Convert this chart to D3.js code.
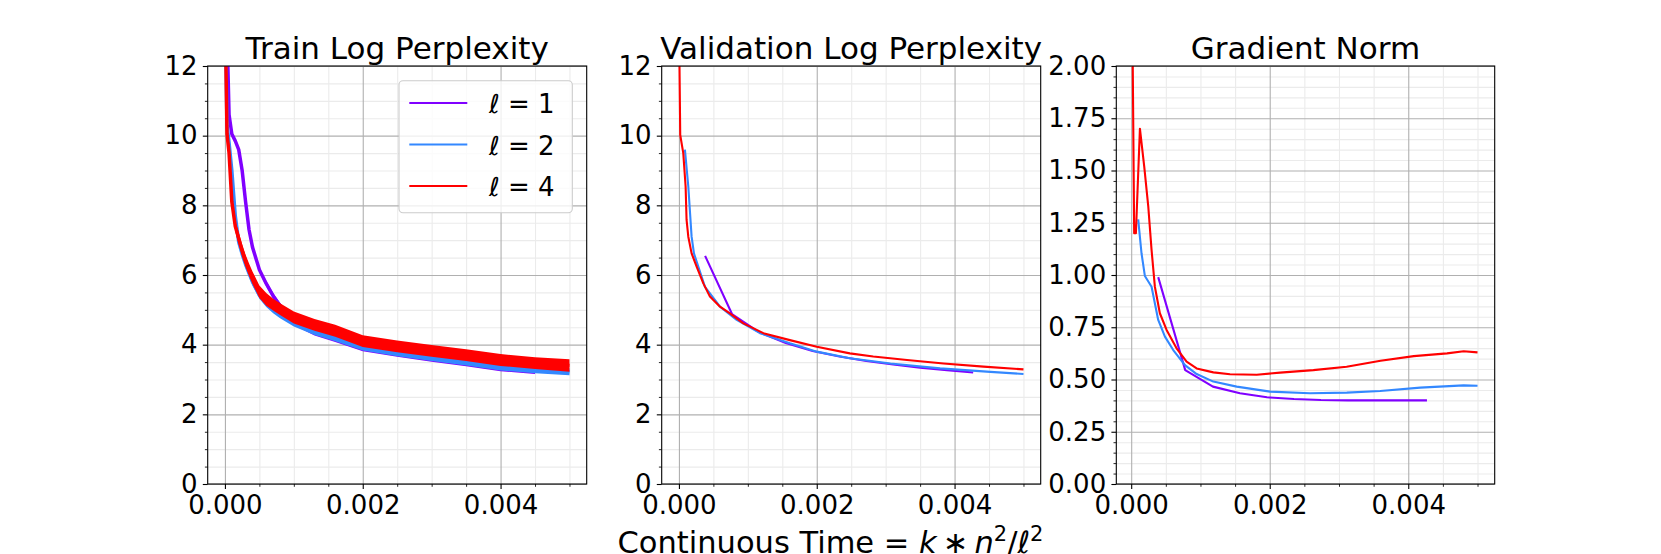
<!DOCTYPE html>
<meta charset="utf-8">
<style>
  body { margin: 0; background: #fff; }
  svg { font-family: "DejaVu Sans", sans-serif; background: #fff; }
</style>
<svg width="1661" height="554"></svg>
<script src="https://d3js.org/d3.v7.min.js"></script>
<script>

    // ---------- data ----------
    var seriesKeys   = ["1", "2", "4"];                 // values of l
    var seriesColors = ["#8000ff", "#3388ff", "#ff0000"];

    var xTickValues = [0, 0.002, 0.004];
    var xTickLabels = ["0.000", "0.002", "0.004"];
    var ppxTicks    = [0, 2, 4, 6, 8, 10, 12];
    var gradTicks   = [0, 0.25, 0.5, 0.75, 1, 1.25, 1.5, 1.75, 2];

    // train log perplexity (noisy): centre value and half-spread of the noise band
    var trainTime = [0, 0.00003, 0.00006, 0.0001, 0.00015, 0.0002, 0.00025, 0.0003, 0.00035, 0.0004,
                     0.0005, 0.0006, 0.0007, 0.0008, 0.001, 0.0013, 0.0016, 0.002, 0.0025, 0.003,
                     0.0035, 0.004, 0.0045, 0.005];
    var train1 = [null, 13, 10.6, 10.05, 9.85, 9.6, 9.0, 8.1, 7.3, 6.8,
                  6.15, 5.75, 5.4, 5.12, 4.65, 4.35, 4.17, 3.9, 3.74, 3.6,
                  3.47, 3.33, 3.25, null];
    var train2 = [14, 10.3, 9.8, 9.0, 7.7, 6.95, 6.6, 6.3, 6.05, 5.8,
                  5.42, 5.18, 5.0, 4.86, 4.62, 4.38, 4.2, 3.93, 3.77, 3.63,
                  3.5, 3.36, 3.28, 3.22];
    var train4 = [14, 10.05, 9.5, 8.1, 7.4, 7.05, 6.7, 6.4, 6.15, 5.92,
                  5.52, 5.3, 5.15, 5.02, 4.78, 4.57, 4.4, 4.1, 3.95, 3.82,
                  3.7, 3.56, 3.47, 3.4];
    var trainSpread1 = [0, 0.05, 0.05, 0.06, 0.06, 0.06, 0.06, 0.06, 0.07, 0.07,
                        0.07, 0.08, 0.08, 0.08, 0.09, 0.09, 0.09, 0.09, 0.09, 0.09,
                        0.09, 0.09, 0.09, 0];
    var trainSpread2 = [0, 0.06, 0.06, 0.08, 0.08, 0.09, 0.09, 0.1, 0.1, 0.1,
                        0.1, 0.1, 0.1, 0.1, 0.1, 0.1, 0.1, 0.1, 0.1, 0.1,
                        0.1, 0.1, 0.1, 0.1];
    var trainSpread4 = [0, 0.08, 0.1, 0.12, 0.15, 0.18, 0.18, 0.18, 0.18, 0.18,
                        0.18, 0.18, 0.17, 0.17, 0.17, 0.17, 0.17, 0.17, 0.17, 0.17,
                        0.17, 0.17, 0.17, 0.18];

    // validation log perplexity
    var valTime1 = [0.00038, 0.00077, 0.00116, 0.00155, 0.00194, 0.00233, 0.00272, 0.00311, 0.0035, 0.00389, 0.00427];
    var val1     = [6.55, 4.88, 4.36, 4.05, 3.82, 3.66, 3.53, 3.43, 3.34, 3.27, 3.2];
    var valTime2 = [0.000087, 0.000136, 0.000184, 0.000218, 0.000281, 0.000378, 0.000596, 0.000838, 0.001177,
                    0.00161, 0.002, 0.00248, 0.00307, 0.00379, 0.00452, 0.005];
    var val2     = [9.6, 8.54, 7.1, 6.62, 6.24, 5.66, 5.09, 4.71, 4.33, 4.04, 3.8, 3.61, 3.46, 3.32, 3.22, 3.16];
    var valTime4 = [0, 0.000019, 0.000063, 0.000097, 0.000111, 0.000136, 0.000184, 0.000257, 0.000354, 0.00045,
                    0.000596, 0.00074, 0.000935, 0.001225, 0.00161, 0.002, 0.00248, 0.00282, 0.00331, 0.00384,
                    0.00442, 0.005];
    var val4     = [13.5, 10.02, 9.5, 8.54, 7.58, 7.1, 6.62, 6.24, 5.76, 5.38,
                    5.09, 4.9, 4.61, 4.33, 4.13, 3.94, 3.75, 3.66, 3.56, 3.46,
                    3.37, 3.29];

    // gradient norm
    var gradTime1 = [0.00039, 0.00078, 0.00118, 0.00157, 0.00196, 0.00235, 0.00274, 0.00313, 0.00352, 0.00391, 0.00427];
    var grad1     = [0.99, 0.545, 0.466, 0.434, 0.415, 0.407, 0.402, 0.4, 0.4, 0.4, 0.4];
    var gradTime2 = [0.000101, 0.000149, 0.000198, 0.000294, 0.00039, 0.000487, 0.000607, 0.000776, 0.000945,
                     0.001186, 0.001523, 0.002005, 0.002583, 0.003113, 0.003595, 0.004173, 0.0048, 0.005];
    var grad2     = [1.266, 1.104, 0.995, 0.944, 0.785, 0.705, 0.641, 0.569, 0.526,
                     0.49, 0.466, 0.442, 0.434, 0.437, 0.445, 0.461, 0.472, 0.47];
    var gradTime4 = [0.000015, 0.000043, 0.000068, 0.000126, 0.000188, 0.000246, 0.000294, 0.000342, 0.000414,
                     0.000511, 0.000655, 0.0008, 0.000945, 0.001186, 0.001427, 0.001812, 0.00215, 0.00263,
                     0.00311, 0.0036, 0.00408, 0.00456, 0.0048, 0.005];
    var grad4     = [2.3, 1.2, 1.2, 1.7, 1.52, 1.33, 1.12, 0.944, 0.817,
                     0.737, 0.649, 0.585, 0.553, 0.534, 0.525, 0.523, 0.533, 0.545,
                     0.561, 0.59, 0.612, 0.625, 0.635, 0.63];

    function zip(t, v, s) {
        return t.map(function(d, i) { return {t: d, v: v[i], s: s ? s[i] : 0}; });
    }

    /* --------------------
     Layout
   -------------------- */
    var svg = d3.select("svg"),
        width = +svg.attr("width"),
        height = +svg.attr("height");

    var plotTop = 66, plotBottom = 484;
    var tickFont = 26, titleFont = 31;

    var panels = [
        {title: "Train Log Perplexity", x0: 207.7, x1: 586.7, xDomain: [-0.00025, 0.00525],
         yDomain: [0, 12], yTicks: ppxTicks, yMinorStep: 0.5, fmt: d3.format("d"), noisy: true,
         series: [zip(trainTime, train1, trainSpread1), zip(trainTime, train2, trainSpread2), zip(trainTime, train4, trainSpread4)]},
        {title: "Validation Log Perplexity", x0: 661.7, x1: 1040.7, xDomain: [-0.00025, 0.00525],
         yDomain: [0, 12], yTicks: ppxTicks, yMinorStep: 0.5, fmt: d3.format("d"),
         series: [zip(valTime1, val1), zip(valTime2, val2), zip(valTime4, val4)]},
        {title: "Gradient Norm", x0: 1116.3, x1: 1494.7, xDomain: [-0.000215, 0.005248],
         yDomain: [0, 2], yTicks: gradTicks, yMinorStep: 0.05, fmt: d3.format(".2f"),
         series: [zip(gradTime1, grad1), zip(gradTime2, grad2), zip(gradTime4, grad4)]}
    ];

    var majorLen = 4.9, minorLen = 2.8;

    panels.forEach(function(p, pi) {
        var w = p.x1 - p.x0, h = plotBottom - plotTop;
        var x = d3.scaleLinear().domain(p.xDomain).range([0, w]);
        var y = d3.scaleLinear().domain(p.yDomain).range([h, 0]);

        var xMinor = d3.range(-0.0005, 0.0055, 0.0005).filter(function(d) {
            return d >= p.xDomain[0] && d <= p.xDomain[1] && Math.abs(Math.round(d / 0.002) * 0.002 - d) > 1e-9;
        });
        var yMinor = d3.range(p.yDomain[0], p.yDomain[1] + 1e-9, p.yMinorStep).filter(function(d) {
            return p.yTicks.every(function(t) { return Math.abs(t - d) > 1e-9; });
        });

        var g = svg.append("g").attr("transform", "translate(" + p.x0 + "," + plotTop + ")");

        // grids
        function grid(axis, cls, color) {
            var gg = g.append("g").attr("class", cls).call(axis);
            gg.select(".domain").remove();
            gg.selectAll("line").attr("stroke", color).attr("stroke-width", 1.1);
            gg.selectAll("text").remove();
            return gg;
        }
        grid(d3.axisBottom(x).tickValues(xMinor).tickSize(-h).tickFormat(""), "gx-minor", "#ebebeb")
            .attr("transform", "translate(0," + h + ")");
        grid(d3.axisLeft(y).tickValues(yMinor).tickSize(-w).tickFormat(""), "gy-minor", "#ebebeb");
        grid(d3.axisBottom(x).tickValues(xTickValues).tickSize(-h).tickFormat(""), "gx-major", "#b0b0b0")
            .attr("transform", "translate(0," + h + ")");
        grid(d3.axisLeft(y).tickValues(p.yTicks).tickSize(-w).tickFormat(""), "gy-major", "#b0b0b0");

        // clip
        var clipId = "clip" + pi;
        g.append("clipPath").attr("id", clipId)
            .append("rect").attr("width", w).attr("height", h);
        var plot = g.append("g").attr("clip-path", "url(#" + clipId + ")");

        var line = d3.line()
            .defined(function(d) { return d.v != null; })
            .x(function(d) { return x(d.t); })
            .y(function(d) { return y(d.v); });

        var area = d3.area()
            .defined(function(d) { return d.v != null; })
            .x(function(d) { return x(d.t); })
            .y0(function(d) { return y(d.v - d.s); })
            .y1(function(d) { return y(d.v + d.s); });

        p.series.forEach(function(data, si) {
            if (p.noisy) {
                plot.append("path")
                    .datum(data)
                    .attr("d", area)
                    .attr("fill", seriesColors[si]);
            }
            plot.append("path")
                .datum(data)
                .attr("d", line)
                .attr("fill", "none")
                .attr("stroke", seriesColors[si])
                .attr("stroke-width", p.noisy ? 3.5 : 2.1)
                .attr("stroke-linejoin", "round");
        });

        // axes
        var ax = g.append("g").attr("transform", "translate(0," + h + ")")
            .call(d3.axisBottom(x).tickValues(xTickValues).tickFormat(function(d, i) { return xTickLabels[i]; })
                .tickSize(majorLen).tickPadding(6.8));
        var axm = g.append("g").attr("transform", "translate(0," + h + ")")
            .call(d3.axisBottom(x).tickValues(xMinor).tickFormat("").tickSize(minorLen));
        var ay = g.append("g")
            .call(d3.axisLeft(y).tickValues(p.yTicks).tickFormat(p.fmt).tickSize(majorLen).tickPadding(5.2));
        var aym = g.append("g")
            .call(d3.axisLeft(y).tickValues(yMinor).tickFormat("").tickSize(minorLen));
        [ax, axm, ay, aym].forEach(function(a) {
            a.select(".domain").remove();
            a.selectAll("line").attr("stroke", "#000").attr("stroke-width", 1.1);
            a.selectAll("text").attr("font-size", tickFont).attr("fill", "#000")
                .attr("font-family", "DejaVu Sans");
        });
        axm.selectAll("line").attr("stroke-width", 0.85);
        aym.selectAll("line").attr("stroke-width", 0.85);

        // spines
        g.append("rect").attr("width", w).attr("height", h)
            .attr("fill", "none").attr("stroke", "#000").attr("stroke-width", 1.1);

        // title
        svg.append("text")
            .attr("x", (p.x0 + p.x1) / 2).attr("y", 59.3)
            .attr("text-anchor", "middle")
            .attr("font-size", titleFont)
            .text(p.title);
    });

    // legend (first panel)
    var leg = svg.append("g");
    leg.append("rect")
        .attr("x", 399).attr("y", 80.7).attr("width", 173.3).attr("height", 132)
        .attr("rx", 4).attr("fill", "#fff").attr("fill-opacity", 0.8)
        .attr("stroke", "#cccccc").attr("stroke-width", 1.1);
    seriesKeys.forEach(function(k, i) {
        var ly = 103 + i * 41.5;
        leg.append("line")
            .attr("x1", 409.3).attr("x2", 467.3).attr("y1", ly).attr("y2", ly)
            .attr("stroke", seriesColors[i]).attr("stroke-width", 2.1);
        var t = leg.append("text").attr("x", 489).attr("y", ly + 10.3).attr("font-size", tickFont);
        t.append("tspan").attr("font-style", "italic").text("\u2113");
        t.append("tspan").attr("xml:space", "preserve").text(" = " + k);
    });

    // shared x label, centred on the figure
    var xl = svg.append("text").attr("x", width / 2).attr("y", 553)
        .attr("text-anchor", "middle").attr("font-size", 30.5);
    xl.append("tspan").text("Continuous Time = ");
    xl.append("tspan").attr("font-style", "italic").text("k");
    xl.append("tspan").text("\u2009\u2217\u2009");
    xl.append("tspan").attr("font-style", "italic").text("n");
    xl.append("tspan").attr("font-size", 21).attr("dy", -12).text("2");
    xl.append("tspan").attr("dy", 12).text("/");
    xl.append("tspan").attr("font-style", "italic").text("\u2113");
    xl.append("tspan").attr("font-size", 21).attr("dy", -12).text("2");

</script>
